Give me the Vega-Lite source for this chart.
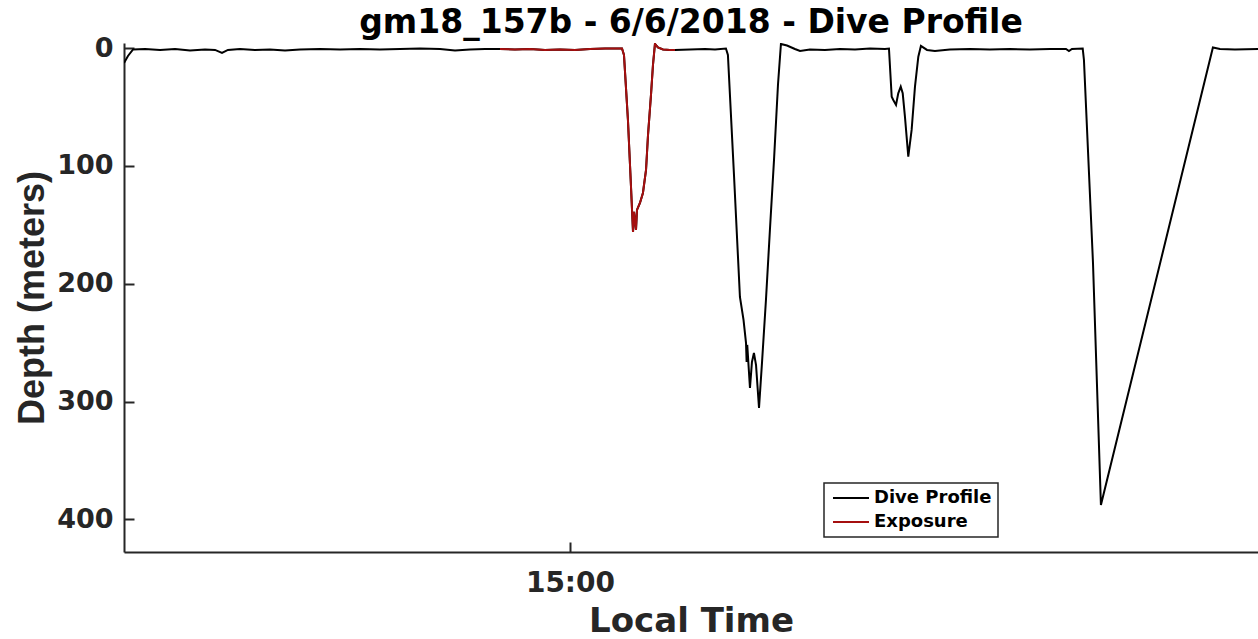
{
  "$schema": "https://vega.github.io/schema/vega-lite/v6.json",
  "width": 1134,
  "height": 509,
  "autosize": {"type": "none"},
  "padding": {"left": 124, "top": 43, "right": 0, "bottom": 87},
  "background": "white",
  "config": {"view": {"stroke": null}},
  "title": {
    "text": "gm18_157b - 6/6/2018 - Dive Profile",
    "font": "DejaVu Sans",
    "fontWeight": "bold",
    "fontSize": 33,
    "color": "#000000",
    "anchor": "middle",
    "frame": "group",
    "baseline": "bottom",
    "offset": 3,
    "dy": 42
  },
  "data": {
    "values": [
      {"t": "2018-06-06T14:00:00", "d": 12.6, "s": "Dive Profile"},
      {"t": "2018-06-06T14:00:32", "d": 6.6, "s": "Dive Profile"},
      {"t": "2018-06-06T14:01:13", "d": 1.1, "s": "Dive Profile"},
      {"t": "2018-06-06T14:02:50", "d": 0.7, "s": "Dive Profile"},
      {"t": "2018-06-06T14:04:51", "d": 1.5, "s": "Dive Profile"},
      {"t": "2018-06-06T14:06:52", "d": 0.7, "s": "Dive Profile"},
      {"t": "2018-06-06T14:08:53", "d": 2.0, "s": "Dive Profile"},
      {"t": "2018-06-06T14:10:54", "d": 1.1, "s": "Dive Profile"},
      {"t": "2018-06-06T14:12:15", "d": 1.5, "s": "Dive Profile"},
      {"t": "2018-06-06T14:13:11", "d": 4.1, "s": "Dive Profile"},
      {"t": "2018-06-06T14:13:59", "d": 1.5, "s": "Dive Profile"},
      {"t": "2018-06-06T14:15:36", "d": 0.7, "s": "Dive Profile"},
      {"t": "2018-06-06T14:17:37", "d": 1.5, "s": "Dive Profile"},
      {"t": "2018-06-06T14:19:38", "d": 1.1, "s": "Dive Profile"},
      {"t": "2018-06-06T14:21:40", "d": 2.0, "s": "Dive Profile"},
      {"t": "2018-06-06T14:23:41", "d": 1.1, "s": "Dive Profile"},
      {"t": "2018-06-06T14:26:22", "d": 0.7, "s": "Dive Profile"},
      {"t": "2018-06-06T14:29:04", "d": 1.1, "s": "Dive Profile"},
      {"t": "2018-06-06T14:31:45", "d": 0.7, "s": "Dive Profile"},
      {"t": "2018-06-06T14:34:26", "d": 1.1, "s": "Dive Profile"},
      {"t": "2018-06-06T14:37:08", "d": 0.7, "s": "Dive Profile"},
      {"t": "2018-06-06T14:39:49", "d": 0.3, "s": "Dive Profile"},
      {"t": "2018-06-06T14:42:31", "d": 0.7, "s": "Dive Profile"},
      {"t": "2018-06-06T14:44:32", "d": 2.0, "s": "Dive Profile"},
      {"t": "2018-06-06T14:46:33", "d": 1.1, "s": "Dive Profile"},
      {"t": "2018-06-06T14:48:34", "d": 0.7, "s": "Dive Profile"},
      {"t": "2018-06-06T14:50:35", "d": 0.7, "s": "Dive Profile"},
      {"t": "2018-06-06T14:52:36", "d": 1.1, "s": "Dive Profile"},
      {"t": "2018-06-06T14:54:37", "d": 0.7, "s": "Dive Profile"},
      {"t": "2018-06-06T14:56:38", "d": 1.5, "s": "Dive Profile"},
      {"t": "2018-06-06T14:58:39", "d": 1.1, "s": "Dive Profile"},
      {"t": "2018-06-06T15:00:40", "d": 1.5, "s": "Dive Profile"},
      {"t": "2018-06-06T15:02:42", "d": 0.7, "s": "Dive Profile"},
      {"t": "2018-06-06T15:04:43", "d": 0.3, "s": "Dive Profile"},
      {"t": "2018-06-06T15:07:00", "d": 0.3, "s": "Dive Profile"},
      {"t": "2018-06-06T15:07:16", "d": 5.8, "s": "Dive Profile"},
      {"t": "2018-06-06T15:07:48", "d": 61.0, "s": "Dive Profile"},
      {"t": "2018-06-06T15:08:12", "d": 116.1, "s": "Dive Profile"},
      {"t": "2018-06-06T15:08:29", "d": 156.0, "s": "Dive Profile"},
      {"t": "2018-06-06T15:08:37", "d": 139.0, "s": "Dive Profile"},
      {"t": "2018-06-06T15:08:53", "d": 154.3, "s": "Dive Profile"},
      {"t": "2018-06-06T15:09:01", "d": 137.3, "s": "Dive Profile"},
      {"t": "2018-06-06T15:09:25", "d": 131.4, "s": "Dive Profile"},
      {"t": "2018-06-06T15:09:49", "d": 122.9, "s": "Dive Profile"},
      {"t": "2018-06-06T15:10:14", "d": 103.4, "s": "Dive Profile"},
      {"t": "2018-06-06T15:10:30", "d": 73.7, "s": "Dive Profile"},
      {"t": "2018-06-06T15:10:54", "d": 39.7, "s": "Dive Profile"},
      {"t": "2018-06-06T15:11:10", "d": 14.3, "s": "Dive Profile"},
      {"t": "2018-06-06T15:11:26", "d": -3.6, "s": "Dive Profile"},
      {"t": "2018-06-06T15:11:50", "d": -0.6, "s": "Dive Profile"},
      {"t": "2018-06-06T15:12:31", "d": 1.1, "s": "Dive Profile"},
      {"t": "2018-06-06T15:13:27", "d": 1.5, "s": "Dive Profile"},
      {"t": "2018-06-06T15:14:08", "d": 1.5, "s": "Dive Profile"},
      {"t": "2018-06-06T15:16:09", "d": 1.1, "s": "Dive Profile"},
      {"t": "2018-06-06T15:18:10", "d": 0.7, "s": "Dive Profile"},
      {"t": "2018-06-06T15:19:31", "d": 1.1, "s": "Dive Profile"},
      {"t": "2018-06-06T15:20:59", "d": 0.3, "s": "Dive Profile"},
      {"t": "2018-06-06T15:21:15", "d": 5.8, "s": "Dive Profile"},
      {"t": "2018-06-06T15:22:04", "d": 107.7, "s": "Dive Profile"},
      {"t": "2018-06-06T15:22:52", "d": 211.2, "s": "Dive Profile"},
      {"t": "2018-06-06T15:23:21", "d": 230.6, "s": "Dive Profile"},
      {"t": "2018-06-06T15:23:41", "d": 250.1, "s": "Dive Profile"},
      {"t": "2018-06-06T15:23:46", "d": 266.4, "s": "Dive Profile"},
      {"t": "2018-06-06T15:23:51", "d": 251.9, "s": "Dive Profile"},
      {"t": "2018-06-06T15:24:13", "d": 288.4, "s": "Dive Profile"},
      {"t": "2018-06-06T15:24:29", "d": 266.4, "s": "Dive Profile"},
      {"t": "2018-06-06T15:24:45", "d": 258.7, "s": "Dive Profile"},
      {"t": "2018-06-06T15:25:02", "d": 269.0, "s": "Dive Profile"},
      {"t": "2018-06-06T15:25:26", "d": 305.4, "s": "Dive Profile"},
      {"t": "2018-06-06T15:25:50", "d": 267.2, "s": "Dive Profile"},
      {"t": "2018-06-06T15:26:22", "d": 213.8, "s": "Dive Profile"},
      {"t": "2018-06-06T15:26:54", "d": 154.4, "s": "Dive Profile"},
      {"t": "2018-06-06T15:27:27", "d": 95.0, "s": "Dive Profile"},
      {"t": "2018-06-06T15:27:59", "d": 31.2, "s": "Dive Profile"},
      {"t": "2018-06-06T15:28:23", "d": -3.6, "s": "Dive Profile"},
      {"t": "2018-06-06T15:29:12", "d": -2.3, "s": "Dive Profile"},
      {"t": "2018-06-06T15:30:16", "d": 0.7, "s": "Dive Profile"},
      {"t": "2018-06-06T15:30:57", "d": 2.4, "s": "Dive Profile"},
      {"t": "2018-06-06T15:32:17", "d": 1.1, "s": "Dive Profile"},
      {"t": "2018-06-06T15:34:18", "d": 1.5, "s": "Dive Profile"},
      {"t": "2018-06-06T15:36:20", "d": 0.7, "s": "Dive Profile"},
      {"t": "2018-06-06T15:38:21", "d": 1.1, "s": "Dive Profile"},
      {"t": "2018-06-06T15:40:22", "d": 0.3, "s": "Dive Profile"},
      {"t": "2018-06-06T15:42:23", "d": 0.7, "s": "Dive Profile"},
      {"t": "2018-06-06T15:42:55", "d": 0.3, "s": "Dive Profile"},
      {"t": "2018-06-06T15:43:17", "d": 41.2, "s": "Dive Profile"},
      {"t": "2018-06-06T15:43:30", "d": 44.0, "s": "Dive Profile"},
      {"t": "2018-06-06T15:43:52", "d": 48.2, "s": "Dive Profile"},
      {"t": "2018-06-06T15:44:10", "d": 38.3, "s": "Dive Profile"},
      {"t": "2018-06-06T15:44:30", "d": 32.7, "s": "Dive Profile"},
      {"t": "2018-06-06T15:44:46", "d": 38.3, "s": "Dive Profile"},
      {"t": "2018-06-06T15:45:04", "d": 58.1, "s": "Dive Profile"},
      {"t": "2018-06-06T15:45:31", "d": 92.1, "s": "Dive Profile"},
      {"t": "2018-06-06T15:45:58", "d": 69.4, "s": "Dive Profile"},
      {"t": "2018-06-06T15:46:25", "d": 32.7, "s": "Dive Profile"},
      {"t": "2018-06-06T15:46:52", "d": 7.2, "s": "Dive Profile"},
      {"t": "2018-06-06T15:47:13", "d": -1.9, "s": "Dive Profile"},
      {"t": "2018-06-06T15:48:02", "d": 1.5, "s": "Dive Profile"},
      {"t": "2018-06-06T15:49:06", "d": 2.4, "s": "Dive Profile"},
      {"t": "2018-06-06T15:51:07", "d": 1.1, "s": "Dive Profile"},
      {"t": "2018-06-06T15:53:49", "d": 0.7, "s": "Dive Profile"},
      {"t": "2018-06-06T15:56:30", "d": 1.1, "s": "Dive Profile"},
      {"t": "2018-06-06T15:59:12", "d": 0.7, "s": "Dive Profile"},
      {"t": "2018-06-06T16:01:53", "d": 1.1, "s": "Dive Profile"},
      {"t": "2018-06-06T16:04:35", "d": 0.7, "s": "Dive Profile"},
      {"t": "2018-06-06T16:06:44", "d": 0.7, "s": "Dive Profile"},
      {"t": "2018-06-06T16:07:08", "d": 2.4, "s": "Dive Profile"},
      {"t": "2018-06-06T16:07:32", "d": 0.7, "s": "Dive Profile"},
      {"t": "2018-06-06T16:08:59", "d": 0.3, "s": "Dive Profile"},
      {"t": "2018-06-06T16:09:09", "d": 10.0, "s": "Dive Profile"},
      {"t": "2018-06-06T16:10:22", "d": 182.3, "s": "Dive Profile"},
      {"t": "2018-06-06T16:11:26", "d": 387.8, "s": "Dive Profile"},
      {"t": "2018-06-06T16:26:30", "d": -0.6, "s": "Dive Profile"},
      {"t": "2018-06-06T16:27:27", "d": 0.7, "s": "Dive Profile"},
      {"t": "2018-06-06T16:29:28", "d": 1.1, "s": "Dive Profile"},
      {"t": "2018-06-06T16:32:34", "d": 0.7, "s": "Dive Profile"},

      {"t": "2018-06-06T14:50:35", "d": 0.7, "s": "Exposure"},
      {"t": "2018-06-06T14:52:36", "d": 1.1, "s": "Exposure"},
      {"t": "2018-06-06T14:54:37", "d": 0.7, "s": "Exposure"},
      {"t": "2018-06-06T14:56:38", "d": 1.5, "s": "Exposure"},
      {"t": "2018-06-06T14:58:39", "d": 1.1, "s": "Exposure"},
      {"t": "2018-06-06T15:00:40", "d": 1.5, "s": "Exposure"},
      {"t": "2018-06-06T15:02:42", "d": 0.7, "s": "Exposure"},
      {"t": "2018-06-06T15:04:43", "d": 0.3, "s": "Exposure"},
      {"t": "2018-06-06T15:07:00", "d": 0.3, "s": "Exposure"},
      {"t": "2018-06-06T15:07:16", "d": 5.8, "s": "Exposure"},
      {"t": "2018-06-06T15:07:48", "d": 61.0, "s": "Exposure"},
      {"t": "2018-06-06T15:08:12", "d": 116.1, "s": "Exposure"},
      {"t": "2018-06-06T15:08:29", "d": 156.0, "s": "Exposure"},
      {"t": "2018-06-06T15:08:37", "d": 139.0, "s": "Exposure"},
      {"t": "2018-06-06T15:08:53", "d": 154.3, "s": "Exposure"},
      {"t": "2018-06-06T15:09:01", "d": 137.3, "s": "Exposure"},
      {"t": "2018-06-06T15:09:25", "d": 131.4, "s": "Exposure"},
      {"t": "2018-06-06T15:09:49", "d": 122.9, "s": "Exposure"},
      {"t": "2018-06-06T15:10:14", "d": 103.4, "s": "Exposure"},
      {"t": "2018-06-06T15:10:30", "d": 73.7, "s": "Exposure"},
      {"t": "2018-06-06T15:10:54", "d": 39.7, "s": "Exposure"},
      {"t": "2018-06-06T15:11:10", "d": 14.3, "s": "Exposure"},
      {"t": "2018-06-06T15:11:26", "d": -3.6, "s": "Exposure"},
      {"t": "2018-06-06T15:11:50", "d": -0.6, "s": "Exposure"},
      {"t": "2018-06-06T15:12:31", "d": 1.1, "s": "Exposure"},
      {"t": "2018-06-06T15:13:27", "d": 1.5, "s": "Exposure"},
      {"t": "2018-06-06T15:14:08", "d": 1.5, "s": "Exposure"}
    ]
  },
  "mark": {"type": "line", "strokeWidth": 2, "clip": true},
  "encoding": {
    "x": {
      "field": "t",
      "type": "temporal",
      "scale": {
        "domain": [
          {"year": 2018, "month": 6, "date": 6, "hours": 14, "minutes": 0, "seconds": 0},
          {"year": 2018, "month": 6, "date": 6, "hours": 16, "minutes": 32, "seconds": 34}
        ],
        "nice": false
      },
      "axis": {
        "title": "Local Time",
        "values": [{"year": 2018, "month": 6, "date": 6, "hours": 15, "minutes": 0}],
        "format": "%H:%M",
        "grid": false,
        "domainColor": "#262626",
        "domainWidth": 2,
        "tickColor": "#262626",
        "tickWidth": 2,
        "tickSize": -10,
        "labelFont": "DejaVu Sans",
        "labelFontWeight": "bold",
        "labelFontSize": 28,
        "labelColor": "#262626",
        "labelBaseline": "alphabetic",
        "labelPadding": 49,
        "labelFlush": false,
        "titleFont": "DejaVu Sans",
        "titleFontWeight": "bold",
        "titleFontSize": 34,
        "titleColor": "#262626",
        "titleX": 567,
        "titleY": 79,
        "titleBaseline": "alphabetic"
      }
    },
    "y": {
      "field": "d",
      "type": "quantitative",
      "scale": {"domain": [-4.4, 427.7], "reverse": true, "nice": false, "zero": false},
      "axis": {
        "title": "Depth (meters)",
        "values": [0, 100, 200, 300, 400],
        "grid": false,
        "domainColor": "#262626",
        "domainWidth": 2,
        "tickColor": "#262626",
        "tickWidth": 2,
        "tickSize": -10,
        "labelFont": "DejaVu Sans",
        "labelFontWeight": "bold",
        "labelFontSize": 27,
        "labelColor": "#262626",
        "labelPadding": 21,
        "titleFont": "Liberation Sans",
        "titleFontWeight": "bold",
        "titleFontSize": 36,
        "titleColor": "#262626",
        "titleX": -81,
        "titleY": 254.5,
        "titleAngle": 270,
        "titleAlign": "center",
        "titleBaseline": "alphabetic"
      }
    },
    "color": {
      "field": "s",
      "type": "nominal",
      "scale": {"domain": ["Dive Profile", "Exposure"], "range": ["#000000", "#a50f0f"]},
      "legend": {
        "title": null,
        "orient": "none",
        "legendX": 700,
        "legendY": 440,
        "direction": "vertical",
        "strokeColor": "#262626",
        "fillColor": "white",
        "padding": 6,
        "symbolType": "M-2.25,0H2.25",
        "symbolSize": 256,
        "symbolStrokeWidth": 2,
        "symbolOffset": 12,
        "labelOffset": 14,
        "rowPadding": 6,
        "labelFont": "DejaVu Sans",
        "labelFontWeight": "bold",
        "labelFontSize": 18,
        "labelColor": "#000000",
        "labelBaseline": "middle",
        "encode": {"legend": {"update": {"strokeWidth": {"value": 1.5}}}}
      }
    }
  }
}
